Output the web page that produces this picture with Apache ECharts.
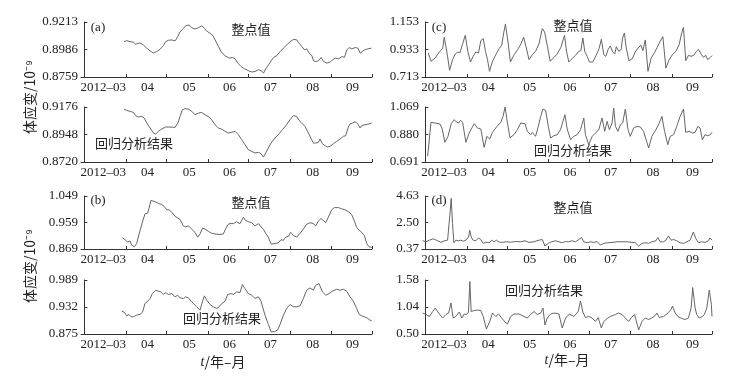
<!DOCTYPE html>
<html lang="zh">
<head>
<meta charset="utf-8"/>
<title>体应变整点值与回归分析结果</title>
<script src="https://cdn.jsdelivr.net/npm/echarts@6/dist/echarts.min.js"></script>
<style>
    html, body { margin: 0; padding: 0; background: #fff; }
    #main { width: 753px; height: 378px; }
</style>
</head>
<body>
<div id="main"></div>
<script>
    // 横轴：以 2012-03-01 为第 0 天
    var monthTicks = [31, 61, 92, 122, 153, 184, 214];
    var monthLabelPos = [14, 47, 78, 108, 138.5, 170, 199.5];
    var monthLabels = ['2012–03', '04', '05', '06', '07', '08', '09'];

    // (a) 整点值 / 回归分析结果
    var aTicks = [0.8759, 0.8986, 0.9213];
    var aHourly = [[29.5,0.9051],[31.5,0.9059],[34,0.9051],[36.5,0.9046],[38.2,0.9029],[39.7,0.9037],[41.4,0.9040],[43.9,0.9024],[46.4,0.8997],[48.9,0.8975],[51.4,0.8956],[53.8,0.8969],[56.3,0.8988],[58.8,0.9018],[60.5,0.9051],[62.5,0.9062],[65,0.9065],[67.5,0.9057],[69.5,0.9092],[71.2,0.9133],[73.7,0.9160],[75.4,0.9182],[77.9,0.9188],[79.9,0.9166],[82.4,0.9155],[84.9,0.9166],[87.3,0.9182],[89.3,0.9160],[91.1,0.9138],[93.5,0.9119],[95.3,0.9106],[97.3,0.9065],[99.8,0.9010],[101.7,0.8969],[104.7,0.8934],[107.7,0.8915],[110.2,0.8920],[112.2,0.8909],[114.1,0.8874],[116.6,0.8846],[119.1,0.8827],[122.1,0.8811],[124.6,0.8800],[127,0.8805],[129.5,0.8819],[131.5,0.8811],[133.3,0.8792],[135,0.8827],[137,0.8860],[139,0.8893],[140.7,0.8920],[143.2,0.8936],[145.7,0.8969],[148.1,0.8997],[150.6,0.9024],[153.1,0.9051],[155.6,0.9070],[158.1,0.9065],[159.8,0.9037],[161.8,0.9010],[163.8,0.8983],[165.5,0.8991],[167.2,0.8956],[169.2,0.8936],[170.5,0.8893],[172.2,0.8887],[174.2,0.8893],[176.2,0.8920],[177.9,0.8887],[180.4,0.8874],[182.9,0.8882],[184.6,0.8901],[187.1,0.8915],[189.1,0.8909],[191.6,0.8928],[193.5,0.8920],[195.3,0.8983],[197,0.9002],[199,0.8991],[201.5,0.9002],[203.5,0.8997],[205.2,0.8956],[206.5,0.8969],[208.4,0.8983],[210.9,0.8991],[213.4,0.8997]];
    var aRegTicks = [0.8720, 0.8948, 0.9176];
    var aRegress = [[29.5,0.9159],[31.5,0.9148],[34,0.9140],[36.5,0.9131],[38.2,0.9104],[40.2,0.9093],[42.7,0.9098],[44.6,0.9084],[46.4,0.9043],[48.9,0.9002],[51.4,0.8960],[53.1,0.8952],[55.1,0.8974],[57.5,0.8993],[60.5,0.9010],[63.7,0.9010],[67.5,0.9007],[69.5,0.9043],[71.2,0.9098],[72.9,0.9153],[74.9,0.9162],[77.4,0.9159],[79.9,0.9140],[82.4,0.9112],[84.9,0.9126],[87.3,0.9131],[89.8,0.9112],[92.8,0.9093],[94.7,0.9071],[97.2,0.9029],[99.7,0.9002],[102.2,0.8993],[104.7,0.8974],[107.1,0.8960],[109.6,0.8966],[112.1,0.8974],[114.6,0.8946],[117.1,0.8905],[119.5,0.8864],[122,0.8822],[124.5,0.8808],[127,0.8795],[129.5,0.8800],[131.4,0.8789],[133.2,0.8761],[134.9,0.8795],[136.9,0.8836],[138.9,0.8877],[141.9,0.8919],[144.3,0.8946],[147.3,0.8988],[150.5,0.9029],[153,0.9071],[155.5,0.9104],[158,0.9098],[159.7,0.9065],[161.7,0.9043],[164.2,0.9015],[166.7,0.8960],[169.1,0.8905],[170.4,0.8877],[172.1,0.8877],[174.1,0.8883],[175.3,0.8910],[177.1,0.8872],[179.1,0.8855],[181,0.8844],[182.8,0.8850],[185.3,0.8872],[187.7,0.8891],[190.2,0.8910],[192.7,0.8933],[194.4,0.8938],[196.4,0.9010],[197.7,0.9037],[199.4,0.9043],[201.4,0.9054],[203.4,0.9037],[205.1,0.9002],[206.3,0.9021],[208.8,0.9029],[211.3,0.9035],[213.8,0.9043]];

    // (b)
    var bTicks = [0.869, 0.959, 1.049];
    var bHourly = [[28.3,0.9072],[30.3,0.9006],[32.2,0.8930],[34,0.8963],[35.2,0.8821],[37.2,0.8766],[38.9,0.8875],[41.4,0.9311],[43.4,0.9638],[45.1,0.9878],[47.1,0.9911],[48.1,1.0074],[49.6,1.0347],[51.3,1.0314],[53.1,1.0292],[55.1,1.0238],[57.5,1.0205],[59.5,1.0129],[61.3,1.0020],[63,1.0020],[65,0.9944],[67.5,0.9802],[68.7,0.9835],[71.2,0.9693],[73.7,0.9475],[75.4,0.9442],[77.4,0.9475],[79.9,0.9366],[82.3,0.9257],[84.3,0.9093],[86.1,0.9202],[87.8,0.9399],[89.8,0.9366],[92.3,0.9290],[94.7,0.9224],[97.2,0.9202],[100.9,0.9181],[103.4,0.9202],[104.7,0.9333],[106.6,0.9508],[108.4,0.9562],[110.9,0.9551],[113.3,0.9617],[115.8,0.9551],[118.3,0.9769],[120,0.9660],[122,0.9617],[124.5,0.9584],[127,0.9475],[129.5,0.9551],[131.4,0.9442],[133.2,0.9366],[134.9,0.9224],[136.9,0.9093],[138.9,0.8854],[141.9,0.8875],[144.3,0.8897],[146.3,0.9006],[148.1,0.8984],[149.8,0.9093],[151.8,0.9115],[153.5,0.9257],[155.5,0.9148],[158,0.9093],[160.5,0.9224],[162.9,0.9366],[165.4,0.9529],[167.9,0.9584],[170.4,0.9551],[172.1,0.9475],[174.1,0.9638],[176.1,0.9726],[177.8,0.9660],[179.6,0.9584],[181.5,0.9769],[184,1.0020],[186,1.0096],[189,1.0096],[191.5,1.0053],[194,1.0020],[196.9,0.9944],[198.9,0.9856],[200.9,0.9638],[202.6,0.9420],[204.4,0.9333],[206.3,0.9257],[208.3,0.9148],[210.1,0.8875],[211.8,0.8766],[213.8,0.8745]];
    var bRegTicks = [0.875, 0.932, 0.989];
    var bRegress = [[27.8,0.9233],[29.8,0.9205],[31.5,0.9135],[33.2,0.9163],[34.7,0.9114],[36.5,0.9114],[38.9,0.9149],[41.4,0.9163],[43.2,0.9205],[45.1,0.9394],[47.1,0.9443],[48.9,0.9499],[50.6,0.9604],[53.1,0.9674],[55.1,0.9653],[57,0.9639],[58.8,0.9583],[60.5,0.9625],[62.5,0.9583],[65,0.9604],[67.5,0.9534],[69.4,0.9569],[71.2,0.9513],[73.7,0.9499],[75.4,0.9534],[77.4,0.9513],[79.4,0.9443],[81.1,0.9394],[83.6,0.9324],[86.1,0.9254],[87.8,0.9429],[89.3,0.9555],[91,0.9464],[93.5,0.9373],[96,0.9324],[98.5,0.9289],[100.2,0.9324],[102.2,0.9394],[104.7,0.9443],[106.6,0.9583],[109.1,0.9604],[110.9,0.9583],[113.3,0.9639],[115.8,0.9625],[117.6,0.9793],[119.5,0.9709],[122,0.9604],[124.5,0.9569],[127,0.9499],[129.5,0.9534],[131.4,0.9443],[134.4,0.9149],[136.9,0.8953],[138.9,0.8799],[141.4,0.8799],[143.8,0.8834],[145.6,0.8953],[148.1,0.9149],[150.5,0.9289],[153,0.9373],[155.5,0.9324],[158,0.9324],[160.5,0.9345],[162.9,0.9499],[165.4,0.9674],[167.9,0.9723],[170.4,0.9674],[172.1,0.9779],[174.6,0.9814],[177.1,0.9639],[179.6,0.9569],[182,0.9604],[184.5,0.9653],[187.7,0.9695],[190.2,0.9674],[192.7,0.9695],[195.2,0.9653],[197.7,0.9534],[200.1,0.9443],[202.6,0.9289],[204.4,0.9163],[206.3,0.9135],[208.3,0.9114],[210.1,0.9093],[212.5,0.9044],[213.8,0.9023]];

    // (c)
    var cTicks = [0.713, 0.933, 1.153];
    var cHourly = [[2.2,0.9052],[4.2,0.8385],[7.4,0.8652],[10.4,0.9133],[12.9,0.9400],[14.1,1.0307],[16.4,0.8919],[18.1,0.7664],[20.3,0.8518],[22.3,0.8972],[24.3,0.9133],[25.8,0.9052],[27.8,0.9773],[29.8,1.0468],[31.7,0.9186],[33.7,0.8332],[35.7,0.8785],[37.7,0.9133],[39.7,0.9052],[41.4,1.0040],[43.2,1.0201],[44.9,0.9186],[46.4,0.8518],[47.9,0.7584],[50.1,0.8385],[52.6,0.8919],[55.1,0.9400],[57,0.9667],[58.5,1.0654],[59.8,1.1375],[61.8,0.9853],[63.5,0.8332],[66,0.8866],[68.4,0.9239],[70.9,0.9667],[73.4,1.0307],[75.4,0.9453],[77.4,0.8518],[79.9,0.8919],[82.3,0.9186],[84.8,0.9773],[87.3,1.1002],[89,1.0735],[91,0.9667],[93.2,0.8385],[96,0.8705],[98.5,0.8972],[101.2,0.9506],[103.9,1.0468],[105.4,0.9186],[107.1,0.8332],[109.6,0.8599],[112.1,0.8866],[114.6,0.9186],[116.1,0.9239],[117.6,1.0254],[119,0.9186],[120.8,0.8785],[122.5,0.8332],[125,0.8332],[127.5,0.8866],[129.7,0.9400],[131.4,1.0147],[133.2,0.8919],[134.7,0.8785],[136.4,0.9319],[138.1,0.9613],[139.9,0.9133],[141.4,0.8972],[142.6,0.9560],[144.3,0.9186],[146.1,0.9319],[147.3,1.0254],[148.6,1.0654],[150,0.9453],[152,0.8438],[154.5,0.8599],[156.7,0.9133],[159.2,0.9506],[161,0.9667],[162.4,0.9239],[164.2,1.0094],[166.2,0.7584],[168.6,0.8652],[171.1,0.9079],[173.1,0.9506],[175.3,0.9987],[177.3,1.0361],[179.6,0.7851],[182,0.8518],[184.5,0.8919],[187,0.9186],[189.5,0.9720],[191.2,1.0574],[192.7,1.1108],[194.4,0.8438],[196.4,0.8866],[198.4,0.8785],[200.4,0.8866],[202.4,0.9186],[203.9,0.9346],[205.8,0.8972],[207.6,0.8705],[209.3,0.8866],[210.8,0.8518],[212.8,0.8705],[214,0.8839]];
    var cRegTicks = [0.691, 0.880, 1.069];
    var cRegress = [[1.7,0.7299],[4.2,0.9635],[7.4,0.9589],[10.9,0.9521],[12.4,0.9246],[14.6,0.8261],[16.9,0.8673],[19.3,0.9544],[21.6,0.9818],[23.3,0.9658],[24.8,0.9589],[26.3,0.9773],[27.8,0.9635],[30.3,0.8261],[32.7,0.8902],[36.5,0.9544],[38.9,0.9246],[41.4,0.9177],[43.9,0.7918],[45.9,0.8673],[48.1,0.8490],[50.1,0.8948],[53.1,0.9315],[56.3,0.9635],[58,1.0047],[59.5,1.0689],[61.3,0.9589],[63.2,0.8582],[66.2,0.8788],[68.7,0.9131],[71.2,0.9589],[74.4,0.9544],[76.1,0.9017],[78.6,0.8788],[79.9,0.8948],[82.3,0.8673],[84.3,0.9360],[86.1,1.0047],[87.8,1.0551],[89.8,1.0460],[91.8,0.9360],[93.5,0.8559],[96,0.8719],[98.5,0.8788],[100.9,0.9131],[104.2,1.0162],[105.9,0.9177],[108.4,0.8444],[110.9,0.8673],[113.3,0.8788],[115.8,0.9131],[118.3,0.9933],[119.5,0.8788],[122,0.8101],[124.5,0.8673],[127,0.8902],[129.5,0.9131],[131.9,0.9933],[133.9,0.9017],[135.7,0.9704],[137.4,0.9131],[139.4,0.9589],[140.6,1.0620],[141.9,0.9360],[143.8,0.9017],[145.6,0.9475],[147.3,0.9589],[149.3,1.0551],[151.3,0.9131],[153,0.8673],[155.5,0.9246],[158,0.9360],[160.5,0.9315],[162.9,0.9017],[166.7,0.7872],[169.1,0.8673],[172.1,0.9131],[174.1,0.9475],[176.6,1.0047],[178.6,0.9017],[181,0.8101],[182.8,0.8673],[185.3,0.8788],[187.7,0.9360],[190.2,1.0047],[192.7,1.0551],[194.4,0.8948],[196.9,0.9017],[199.4,0.8902],[201.4,0.8948],[203.4,0.9360],[205.1,0.9246],[206.8,0.8444],[208.8,0.8788],[210.8,0.8719],[212.8,0.8788],[214,0.8948]];

    // (d)
    var dTicks = [0.37, 2.50, 4.63];
    var dHourly = [[-2,1.03],[0.5,0.95],[3,1.08],[6,1.19],[9.2,1.03],[11.7,0.90],[14.1,1.03],[16.6,1.08],[17.9,1.13],[18.6,3.45],[19.3,4.45],[20.3,2.40],[21.3,0.87],[22.8,1.08],[24.8,1.03],[26.5,1.08],[28.5,1.00],[30.3,1.08],[32.2,1.34],[33.2,1.87],[34.2,1.34],[35.7,1.08],[37.7,1.03],[39.7,1.26],[41.4,1.13],[43.2,0.82],[45.1,0.92],[47.6,0.87],[49.6,1.08],[51.3,0.95],[53.1,1.08],[55.1,0.92],[57.5,0.90],[60.5,0.95],[63.7,0.92],[67.5,0.97],[71.2,0.95],[74.4,1.03],[77.4,0.90],[81.1,0.95],[84.8,1.08],[87.3,1.13],[89.3,0.61],[91.8,0.82],[94.2,0.95],[97.2,1.03],[99.7,0.95],[102.2,0.87],[104.7,0.97],[107.1,0.95],[109.6,1.03],[112.1,0.95],[114.6,1.13],[116.6,1.29],[118.3,0.95],[120.8,0.87],[123.3,0.95],[125.7,0.90],[128.2,0.97],[130.7,0.69],[133.2,0.82],[135.7,0.87],[139.4,0.90],[143.1,0.95],[146.8,0.95],[150.5,0.95],[154.3,0.90],[156.7,0.87],[159.2,0.61],[161.7,0.82],[164.2,0.87],[166.7,0.82],[169.1,0.95],[172.1,1.03],[173.6,1.29],[175.3,0.95],[177.8,0.95],[179.6,1.08],[181.5,1.42],[183.5,1.08],[185.3,1.13],[187.7,1.03],[190.2,0.87],[192.7,0.82],[195.2,0.95],[197.7,1.08],[200.1,1.74],[201.9,1.21],[203.9,0.87],[206.3,0.95],[208.8,0.90],[211.3,1.03],[212.5,1.26],[214,1.08]];
    var dRegTicks = [0.50, 1.04, 1.58];
    var dRegress = [[-2,0.92],[0.5,0.89],[3,0.85],[5.5,0.95],[7.4,1.02],[9.9,0.92],[12.9,0.82],[15.4,0.89],[17.4,0.92],[19.1,1.12],[20.8,0.82],[22.8,0.85],[25.3,0.94],[27.3,0.82],[29,0.90],[30.8,0.89],[32.2,0.94],[33.2,1.55],[34.2,0.95],[36.5,0.97],[38.9,0.98],[41.4,0.97],[43.2,0.85],[45.6,0.60],[48.1,0.75],[50.1,0.92],[52.6,0.85],[54.6,0.90],[57,0.82],[59.5,0.74],[61.3,0.70],[63.7,0.85],[66.2,0.90],[69.9,0.90],[73.7,0.85],[76.1,0.82],[78.6,0.89],[81.1,0.95],[83.6,0.89],[86.1,0.92],[87.8,1.02],[89.3,0.68],[91,0.82],[93.5,0.90],[96.7,0.92],[99.7,0.90],[102.2,0.62],[104.7,0.82],[107.6,0.90],[110.9,0.85],[114.1,0.95],[115.8,1.16],[117.6,0.94],[119.5,0.83],[122,0.85],[124.5,0.82],[127,0.75],[129,0.83],[131.4,0.62],[133.2,0.75],[135.7,0.81],[138.1,0.85],[141.9,0.89],[144.3,0.92],[146.8,0.89],[149.3,0.82],[151.8,0.75],[153.8,0.83],[156.2,0.89],[159.2,0.58],[161.7,0.75],[164.2,0.82],[166.7,0.79],[169.1,0.82],[171.6,0.87],[172.9,0.92],[174.6,0.83],[177.8,0.85],[180.3,0.90],[182,0.95],[183.5,0.99],[184.5,1.06],[186.5,0.92],[188.5,0.85],[191.5,0.81],[193.9,0.79],[196.4,0.82],[198.4,1.02],[199.6,1.43],[201.4,1.02],[202.6,0.89],[204.4,0.82],[206.8,0.85],[208.3,0.89],[210.1,1.02],[212,1.38],[213.5,1.09],[214,0.85]];

    var numFont = '"Liberation Serif", "Times New Roman", serif';
    var cjkFont = '"Noto Sans CJK SC", sans-serif';
    var axisColor = '#333';
    var textColor = '#222';

    // 子图：[左, 上, 宽, 高, 数据, 纵轴刻度, 小数位]
    var panels = [
        [81, 22, 291, 55, aHourly, aTicks, 4],
        [81, 107, 291, 55, aRegress, aRegTicks, 4],
        [81, 196, 291, 53, bHourly, bTicks, 3],
        [81, 280, 291, 54, bRegress, bRegTicks, 3],
        [422, 22, 290, 55, cHourly, cTicks, 3],
        [422, 107, 290, 55, cRegress, cRegTicks, 3],
        [422, 196, 290, 53, dHourly, dTicks, 2],
        [422, 280, 290, 54, dRegress, dRegTicks, 2]
    ];

    var grids = [], xAxes = [], yAxes = [], series = [];
    panels.forEach(function (p, i) {
        grids.push({left: p[0], top: p[1], width: p[2], height: p[3]});
        xAxes.push({
            gridIndex: i,
            type: 'value',
            min: -2.5,
            max: 214,
            axisLine: {show: true, onZero: false, lineStyle: {color: axisColor, width: 1}},
            axisTick: {show: true, inside: true, length: 3, customValues: monthTicks, lineStyle: {color: axisColor}},
            axisLabel: {
                show: true,
                customValues: monthLabelPos,
                formatter: function (v) {
                    return monthLabels[monthLabelPos.indexOf(v)];
                },
                margin: 4,
                fontSize: 13,
                fontFamily: numFont,
                color: textColor
            },
            splitLine: {show: false}
        });
        var ticks = p[5], digits = p[6];
        yAxes.push({
            gridIndex: i,
            type: 'value',
            min: ticks[0],
            max: ticks[2],
            axisLine: {show: true, lineStyle: {color: axisColor, width: 1}},
            axisTick: {show: true, inside: true, length: 3, customValues: ticks, lineStyle: {color: axisColor}},
            axisLabel: {
                show: true,
                customValues: ticks,
                formatter: function (v) {
                    return v.toFixed(digits);
                },
                margin: 3,
                fontSize: 13,
                fontFamily: numFont,
                color: textColor
            },
            splitLine: {show: false}
        });
        series.push({
            type: 'line',
            xAxisIndex: i,
            yAxisIndex: i,
            data: p[4],
            symbol: 'none',
            silent: true,
            lineStyle: {color: '#666', width: 1}
        });
    });

    function label(text, x, y, font, rot) {
        return {
            type: 'text',
            x: x,
            y: y,
            rotation: rot || 0,
            style: {
                text: text,
                font: font,
                fill: textColor,
                textAlign: 'center',
                textVerticalAlign: 'middle',
                align: 'center',
                verticalAlign: 'middle'
            }
        };
    }

    var f13 = '13px ' + cjkFont;
    var graphics = [
        label('体应变/10⁻⁹', 30, 97, '14px ' + cjkFont, Math.PI / 2),
        label('体应变/10⁻⁹', 30, 266, '14px ' + cjkFont, Math.PI / 2),
        label('(a)', 98, 28, '13px ' + numFont),
        label('(b)', 98, 201, '13px ' + numFont),
        label('(c)', 439, 28, '13px ' + numFont),
        label('(d)', 439, 201, '13px ' + numFont),
        label('整点值', 251, 29, f13),
        label('回归分析结果', 134, 143, f13),
        label('整点值', 251, 202, f13),
        label('回归分析结果', 222, 318, f13),
        label('整点值', 573, 25, f13),
        label('回归分析结果', 573, 150, f13),
        label('整点值', 573, 207, f13),
        label('回归分析结果', 544, 290, f13)
    ];
    [[223, 362], [567, 360]].forEach(function (pos) {
        graphics.push({
            type: 'text',
            x: pos[0],
            y: pos[1],
            style: {
                text: '{i|t}/年–月',
                font: '14px ' + cjkFont,
                fill: textColor,
                textAlign: 'center',
                textVerticalAlign: 'middle',
                align: 'center',
                verticalAlign: 'middle',
                rich: {
                    i: {fontStyle: 'italic', fontFamily: numFont, fontSize: 14, fill: textColor}
                }
            }
        });
    });

    var myChart = echarts.init(document.getElementById('main'));
    myChart.setOption({
        animation: false,
        backgroundColor: '#fff',
        grid: grids,
        xAxis: xAxes,
        yAxis: yAxes,
        series: series,
        graphic: graphics
    });
</script>
</body>
</html>
